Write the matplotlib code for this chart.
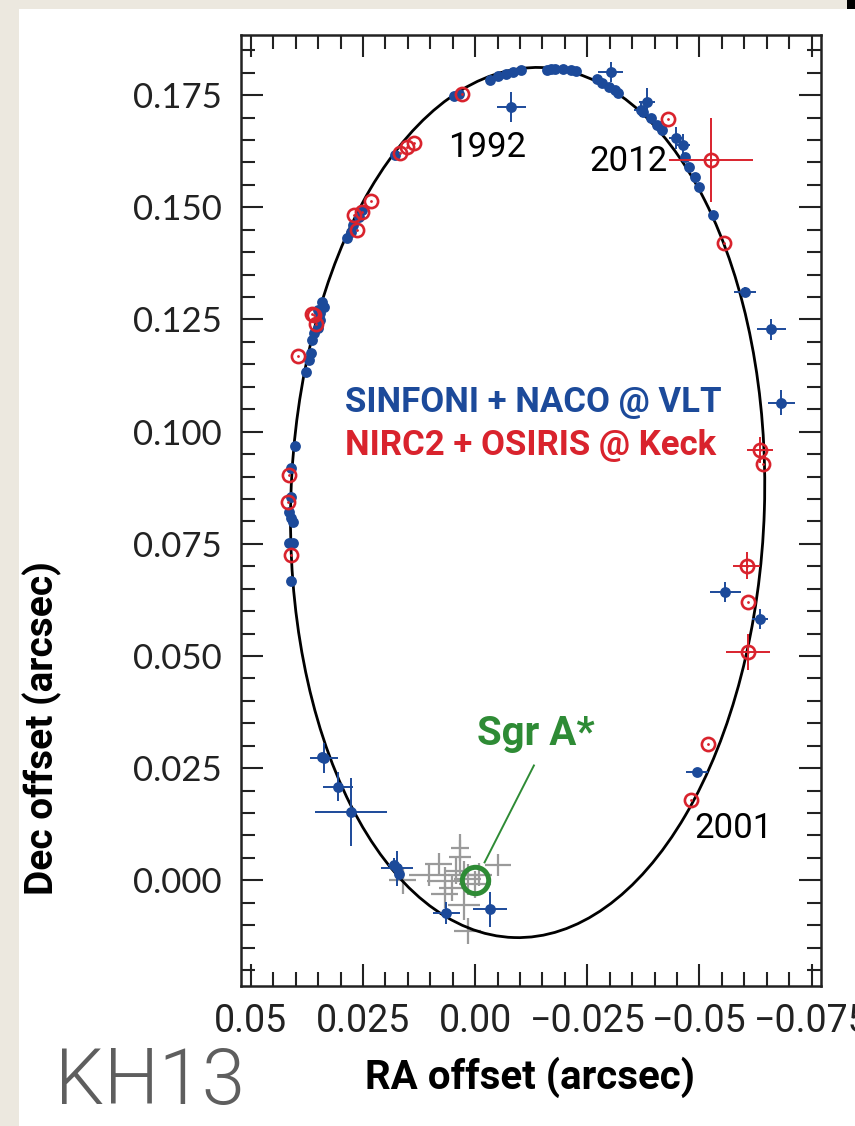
import matplotlib
matplotlib.use("Agg")
import matplotlib.pyplot as plt
from matplotlib.patches import Ellipse, Rectangle
from matplotlib.ticker import MultipleLocator

# ---- data (arcsec) ----
# SINFONI + NACO @ VLT
vlt_x = [0.0179, 0.0047, 0.0036, -0.0034, -0.0051, -0.0068, -0.0085, -0.0102,
         -0.0161, -0.0170, -0.0179, -0.0196, -0.0213, -0.0225, -0.0081, -0.0302,
         -0.0272, -0.0283, -0.0298, -0.0311, -0.0319, -0.0370, -0.0383, -0.0375,
         -0.0392, -0.0405, -0.0417, -0.0447, -0.0464, -0.0468, -0.0477, -0.0490,
         -0.0498, -0.0530, -0.0601, -0.0660, -0.0682, -0.0558, -0.0635, -0.0494,
         0.0064, -0.0034, 0.0175, 0.0180, 0.0170, 0.0277, 0.0306, 0.0337, 0.0342,
         0.0342, 0.0337, 0.0346, 0.0348, 0.0286, 0.0277, 0.0273, 0.0260, 0.0252,
         0.0350, 0.0346, 0.0350, 0.0359, 0.0363, 0.0367, 0.0371, 0.0376,
         0.0401, 0.0410, 0.0410, 0.0414, 0.0410, 0.0405, 0.0414, 0.0405, 0.0411]
vlt_y = [0.1616, 0.1748, 0.1752, 0.1783, 0.1792, 0.1797, 0.1802, 0.1807,
         0.1807, 0.1808, 0.1808, 0.1808, 0.1807, 0.1804, 0.1724, 0.1802,
         0.1785, 0.1776, 0.1769, 0.1761, 0.1754, 0.1717, 0.1735, 0.1713,
         0.1698, 0.1683, 0.1672, 0.1654, 0.1639, 0.1613, 0.1590, 0.1568,
         0.1546, 0.1483, 0.1312, 0.1228, 0.1064, 0.0643, 0.0582, 0.0241,
         -0.0073, -0.0064, 0.0027, 0.0035, 0.0015, 0.0152, 0.0209, 0.0272, 0.0275,
         0.1290, 0.1278, 0.1264, 0.1252, 0.1431, 0.1446, 0.1460, 0.1479, 0.1494,
         0.1271, 0.1249, 0.1230, 0.1219, 0.1204, 0.1175, 0.1160, 0.1134,
         0.0967, 0.0918, 0.0855, 0.0822, 0.0807, 0.0799, 0.0751, 0.0751, 0.0668]
vlt_xerr = [0, 0, 0, 0, 0, 0, 0, 0,
            0, 0, 0, 0, 0, 0, 0.0032, 0.0028,
            0, 0, 0, 0, 0, 0.0015, 0.0018, 0,
            0, 0, 0, 0.0015, 0.0015, 0, 0, 0,
            0, 0, 0.0025, 0.0032, 0.0030, 0.0034, 0.0018, 0.0025,
            0.0030, 0.0038, 0.0036, 0.0015, 0, 0.0081, 0.0033, 0.0032, 0,
            0, 0, 0, 0, 0, 0, 0, 0, 0,
            0, 0, 0, 0, 0, 0, 0, 0,
            0, 0, 0, 0, 0, 0, 0, 0, 0]
vlt_yerr = [0, 0, 0, 0, 0, 0, 0, 0,
            0, 0, 0, 0, 0, 0, 0.0033, 0.0022,
            0, 0, 0, 0, 0, 0.0015, 0.0030, 0,
            0, 0, 0, 0.0025, 0.0025, 0, 0, 0,
            0, 0, 0.0010, 0.0024, 0.0028, 0.0022, 0.0022, 0.0010,
            0.0024, 0.0039, 0.0039, 0.0015, 0, 0.0076, 0.0033, 0.0033, 0,
            0, 0, 0, 0, 0, 0, 0, 0, 0,
            0, 0, 0, 0, 0, 0, 0, 0,
            0, 0, 0, 0, 0, 0, 0, 0, 0]

# NIRC2 + OSIRIS @ Keck
keck_x = [0.0030, 0.0167, 0.0152, 0.0137, 0.0232, 0.0252, 0.0263, 0.0271,
          -0.0430, -0.0526, -0.0554, 0.0359, 0.0394, 0.0363, 0.0354, 0.0414,
          0.0418, 0.0411, -0.0635, -0.0642, -0.0605, -0.0609, -0.0609, -0.0520, -0.0481]
keck_y = [0.1752, 0.1620, 0.1635, 0.1644, 0.1514, 0.1490, 0.1449, 0.1483,
          0.1696, 0.1605, 0.1420, 0.1260, 0.1168, 0.1262, 0.1241, 0.0903,
          0.0844, 0.0725, 0.0959, 0.0928, 0.0701, 0.0621, 0.0508, 0.0303, 0.0179]
keck_xerr = [0, 0, 0, 0, 0, 0, 0, 0,
             0, 0.0094, 0, 0, 0, 0, 0, 0,
             0, 0, 0.0030, 0, 0.0030, 0, 0.0049, 0, 0]
keck_yerr = [0, 0, 0, 0, 0, 0, 0, 0,
             0, 0.0094, 0, 0, 0, 0, 0, 0,
             0, 0, 0.0030, 0, 0.0030, 0, 0.0040, 0, 0]

# Sgr A* flare positions (grey)
flare_x = [0.0081, 0.0034, 0.0025, 0.0017, 0.0068, 0.0102, 0.0051, 0.0000,
           -0.0051, 0.0025, 0.0017, 0.0068, -0.0008, 0.0042, 0.0161, 0.0034]
flare_y = [0.0037, 0.0051, 0.0013, 0.0002, -0.0001, 0.0013, -0.0016, -0.0009,
           0.0034, -0.0054, -0.0113, -0.0031, 0.0013, 0.0021, 0.0000, 0.0073]
flare_xerr = [0.0030, 0.0025, 0.0035, 0.0030, 0.0040, 0.0045, 0.0030, 0.0035,
              0.0030, 0.0035, 0.0030, 0.0030, 0.0030, 0.0025, 0.0030, 0.0020]
flare_yerr = [0.0025, 0.0040, 0.0030, 0.0035, 0.0030, 0.0025, 0.0030, 0.0030,
              0.0025, 0.0035, 0.0030, 0.0030, 0.0025, 0.0030, 0.0030, 0.0030]

# best-fit orbit (projected ellipse)
orbit_center = (-0.0117, 0.0842)
orbit_width = 0.1056
orbit_height = 0.1940
orbit_angle = 1.8

x_ticks = [0.05, 0.025, 0.0, -0.025, -0.05, -0.075]
x_ticklabels = ["0.05", "0.025", "0.00", "\u22120.025", "\u22120.05", "\u22120.075"]
y_ticks = [0.0, 0.025, 0.05, 0.075, 0.1, 0.125, 0.15, 0.175]
y_ticklabels = ["0.000", "0.025", "0.050", "0.075", "0.100", "0.125", "0.150", "0.175"]

BLUE = "#1c4a9a"
RED = "#d9232d"
GREEN = "#2e8b35"
GREY = "#9a9a9a"

narrow = ["Roboto", "DejaVu Sans"]

fig = plt.figure(figsize=(8.55, 11.26), dpi=100, facecolor="#ece8df")
fig.patches.append(Rectangle((19 / 855, 0), 1, 1 - 9 / 1126, transform=fig.transFigure,
                             facecolor="white", edgecolor="none", zorder=-10))
fig.patches.append(Rectangle((847 / 855, 1 - 9 / 1126), 8 / 855, 9 / 1126,
                             transform=fig.transFigure, facecolor="black",
                             edgecolor="none", zorder=-9))

ax = fig.add_axes([241 / 855, 140 / 1126, 580 / 855, 951 / 1126])
ax.set_xlim(0.0522, -0.0771)
ax.set_ylim(-0.02355, 0.1884)

ax.errorbar(flare_x, flare_y, xerr=flare_xerr, yerr=flare_yerr, fmt="none",
            ecolor=GREY, elinewidth=1.6, zorder=2)

ax.add_patch(Ellipse(orbit_center, orbit_width, orbit_height, angle=orbit_angle,
                     facecolor="none", edgecolor="black", linewidth=2.0, zorder=3))

ax.errorbar(vlt_x, vlt_y, xerr=vlt_xerr, yerr=vlt_yerr, fmt="none",
            ecolor=BLUE, elinewidth=1.4, zorder=4)
ax.plot(vlt_x, vlt_y, "o", color=BLUE, ms=7.8, mew=0, zorder=5)

ax.errorbar(keck_x, keck_y, xerr=keck_xerr, yerr=keck_yerr, fmt="none",
            ecolor=RED, elinewidth=1.4, zorder=6)
ax.plot(keck_x, keck_y, "o", mfc="none", mec=RED, ms=9.5, mew=1.9, zorder=7)
ax.plot(keck_x, keck_y, ".", color=RED, ms=2.0, zorder=7)

# Sgr A*
ax.plot([0.0], [0.0], "o", mfc="none", mec=GREEN, ms=19, mew=3.6, zorder=8)
ax.plot([-0.0021, -0.0131], [0.0040, 0.0256], color=GREEN, lw=1.4, zorder=8)
ax.text(-0.0136, 0.0327, "Sgr A*", color=GREEN, fontsize=29, fontweight="bold",
        family=narrow, ha="center", va="center", zorder=9)

ax.text(-0.0027, 0.1633, "1992", fontsize=25, family=narrow, ha="center", va="center")
ax.text(-0.0341, 0.1601, "2012", fontsize=25, family=narrow, ha="center", va="center")
ax.text(-0.0575, 0.0116, "2001", fontsize=25, family=narrow, ha="center", va="center")

ax.text(0.0290, 0.1064, "SINFONI + NACO @ VLT", color=BLUE, fontsize=25,
        fontweight="bold", family=narrow, ha="left", va="center")
ax.text(0.0290, 0.0970, "NIRC2 + OSIRIS @ Keck", color=RED, fontsize=25,
        fontweight="bold", family=narrow, ha="left", va="center")

ax.set_xticks(x_ticks)
ax.set_xticklabels(x_ticklabels, fontsize=27, family=narrow)
ax.set_yticks(y_ticks)
ax.set_yticklabels(y_ticklabels, fontsize=25, family=["Lato", "DejaVu Sans"])
ax.xaxis.set_minor_locator(MultipleLocator(0.005))
ax.yaxis.set_minor_locator(MultipleLocator(0.005))
ax.tick_params(which="both", direction="in", top=True, right=True, width=1.5,
               colors="#222222")
ax.tick_params(which="major", length=16, pad=12)
ax.tick_params(which="minor", length=10)
ax.tick_params(axis="y", which="major", pad=14)
for s in ax.spines.values():
    s.set_linewidth(1.8)
    s.set_color("#222222")

fig.text(42 / 855, 1 - 728 / 1126, "Dec offset (arcsec)", rotation=90, fontsize=28,
         fontweight="bold", family=narrow, ha="center", va="center")
fig.text(530 / 855, 1 - 1077 / 1126, "RA offset (arcsec)", fontsize=29,
         fontweight="bold", family=narrow, ha="center", va="center")
fig.text(55 / 855, 1 - 1104 / 1126, "KH13", fontsize=56, fontweight=300,
         family=narrow, color="#5e5e5e", ha="left", va="baseline")

fig.savefig("out.png", dpi=100, facecolor=fig.get_facecolor())
